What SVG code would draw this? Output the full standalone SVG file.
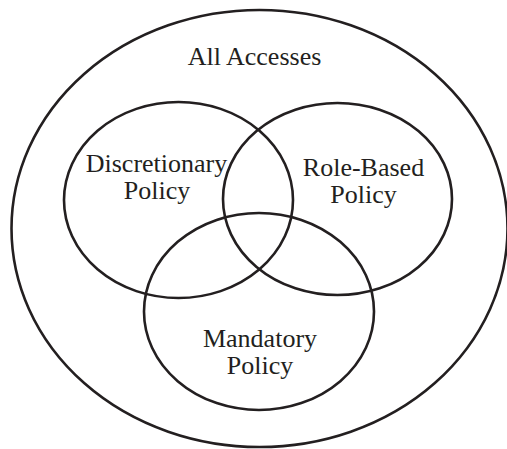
<svg xmlns="http://www.w3.org/2000/svg" width="507" height="449" viewBox="0 0 507 449">
  <style>
    .set { fill: none; stroke: #231f20; stroke-width: 2.6; }
    .label { font-family: "Liberation Serif", "Times New Roman", serif; font-size: 26px; fill: #231f20; text-anchor: middle; }
  </style>
  <rect width="507" height="449" fill="#ffffff"/>
  <g id="all-accesses">
    <ellipse class="set" cx="259.5" cy="228.5" rx="248" ry="218.5"/>
    <text class="label" x="254.5" y="65">All Accesses</text>
  </g>
  <g id="discretionary-policy">
    <ellipse class="set" cx="178.5" cy="200" rx="114.5" ry="98"/>
    <text class="label"><tspan x="156.5" y="172">Discretionary</tspan><tspan x="157" y="198.5">Policy</tspan></text>
  </g>
  <g id="role-based-policy">
    <ellipse class="set" cx="337.5" cy="199" rx="114.5" ry="96"/>
    <text class="label"><tspan x="363.5" y="176">Role-Based</tspan><tspan x="363.5" y="203">Policy</tspan></text>
  </g>
  <g id="mandatory-policy">
    <ellipse class="set" cx="259" cy="311.5" rx="115" ry="98.5"/>
    <text class="label"><tspan x="260" y="346.5">Mandatory</tspan><tspan x="260" y="373.5">Policy</tspan></text>
  </g>
  <g id="connectors"/>
</svg>
